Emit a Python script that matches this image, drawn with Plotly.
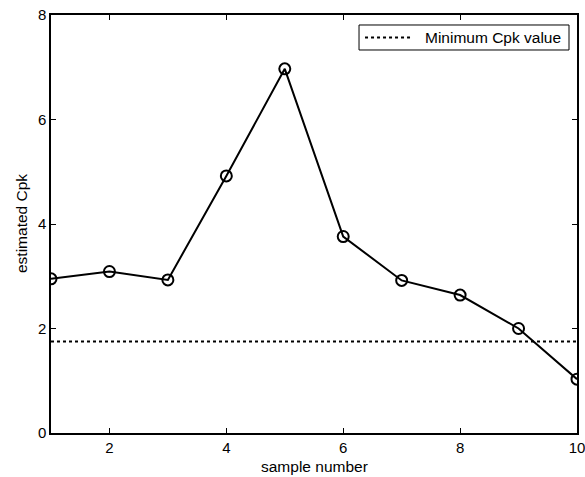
import plotly.graph_objects as go

samples = [1, 2, 3, 4, 5, 6, 7, 8, 9, 10]
cpk = [2.95, 3.09, 2.93, 4.92, 6.97, 3.76, 2.92, 2.64, 2.00, 1.03]
min_cpk = 1.75
min_label = "Minimum Cpk value"
x_title = "sample number"
y_title = "estimated Cpk"
x_ticks = [2, 4, 6, 8, 10]
y_ticks = [0, 2, 4, 6, 8]

fig = go.Figure()
fig.add_trace(go.Scatter(
    x=samples, y=cpk, mode="lines+markers", showlegend=False,
    line=dict(color="black", width=2),
    marker=dict(symbol="circle-open", size=11, color="black", line=dict(width=2)),
))
fig.add_trace(go.Scatter(
    x=[samples[0], samples[-1]], y=[min_cpk, min_cpk], mode="lines",
    name=min_label, showlegend=False,
    line=dict(color="black", width=2, dash="dot"),
))

axis_common = dict(
    showline=True, linecolor="black", linewidth=1.5, mirror="ticks",
    ticks="inside", ticklen=5, tickwidth=1, tickcolor="black",
    showgrid=False, zeroline=False, automargin=False,
    ticklabeloverflow="allow",
    tickfont=dict(family="Liberation Sans, Arial", size=15, color="black"),
)

# manual legend box (matching the reference's longer line sample)
fig.add_shape(type="rect", xref="paper", yref="paper",
              x0=0.5856, x1=0.9848, y0=0.9163, y1=0.9761,
              line=dict(color="black", width=1), fillcolor="white", layer="above")
fig.add_shape(type="line", xref="paper", yref="paper",
              x0=0.597, x1=0.6863, y0=0.9462, y1=0.9462,
              line=dict(color="black", width=2, dash="dot"), layer="above")
fig.add_annotation(xref="paper", yref="paper", x=0.7072, y=0.9462,
                   xanchor="left", yanchor="middle", showarrow=False,
                   text=min_label, font=dict(size=15.5, color="black"))

# axis titles
fig.add_annotation(xref="paper", yref="paper", x=0.5, y=-0.079,
                   xanchor="center", yanchor="middle", showarrow=False,
                   text=x_title, font=dict(size=15.5, color="black"))
fig.add_annotation(xref="paper", yref="paper", x=-0.057, y=0.5,
                   xanchor="center", yanchor="middle", showarrow=False,
                   textangle=-90, text=y_title, font=dict(size=15.5, color="black"))

fig.update_layout(
    width=585, height=477,
    margin=dict(l=51, r=8, t=15, b=44),
    plot_bgcolor="white", paper_bgcolor="white",
    font=dict(family="Liberation Sans, Arial", size=15, color="black"),
    xaxis=dict(range=[1, 10], tickvals=x_ticks, **axis_common),
    yaxis=dict(range=[0, 8], tickvals=y_ticks, **axis_common),
    showlegend=False,
)

fig.write_html("out.html", config={"displayModeBar": False},
               post_script="document.body.style.margin='0';document.body.style.overflow='hidden';")
